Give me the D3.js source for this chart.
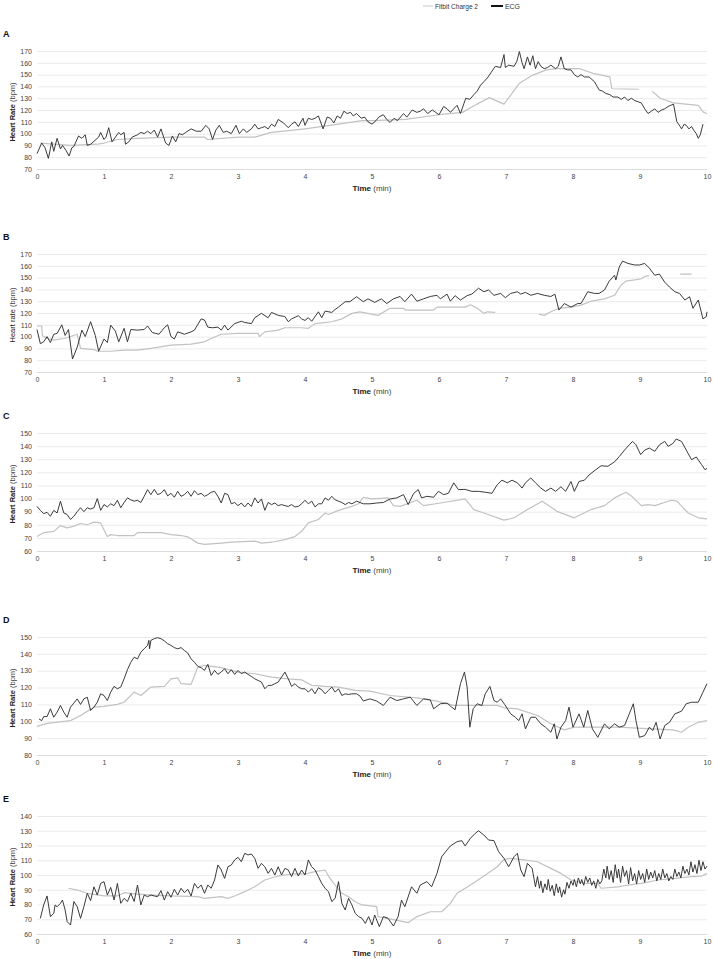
<!DOCTYPE html>
<html><head><meta charset="utf-8">
<script src="https://cdn.jsdelivr.net/npm/d3@7/dist/d3.min.js"></script>
<style>body{margin:0;background:#fff}svg{display:block}text{font-family:"Liberation Sans",Arial,sans-serif}</style>
</head><body><svg id="c" width="713" height="959"></svg>
<script>
// ---------- DATA ----------
const xTicks = [0,1,2,3,4,5,6,7,8,9,10];
const panelLabels = ["A","B","C","D","E"];
const yDomains = [[70,170],[70,170],[60,150],[80,150],[60,140]];
const yTitleMain = ["Heart Rate","Heart rate","Heart Rate","Heart Rate","Heart Rate"];
const legendLabels = ["Fitbit Charge 2","ECG"];

const ecgA = [[0,83],[0.07,92],[0.12,88],[0.17,79],[0.22,93],[0.25,85],[0.3,96],[0.35,87],[0.38,90],[0.43,86],[0.48,81],[0.52,88],[0.55,89],[0.62,98],[0.67,96],[0.72,99],[0.75,90],[0.8,91],[0.88,95],[0.92,97],[0.95,101],[1.0,95],[1.03,97],[1.07,105],[1.12,93],[1.17,97],[1.22,101],[1.25,99],[1.3,101],[1.32,91],[1.37,93],[1.42,97],[1.5,99],[1.55,101],[1.6,100],[1.65,102],[1.7,100],[1.75,103],[1.8,97],[1.85,104],[1.92,92],[1.97,90],[2.02,98],[2.07,93],[2.12,100],[2.17,99],[2.22,101],[2.3,104],[2.38,102],[2.45,102],[2.52,107],[2.57,104],[2.62,95],[2.67,103],[2.72,107],[2.78,101],[2.83,102],[2.9,100],[2.97,107],[3.02,100],[3.08,104],[3.13,101],[3.2,104],[3.25,108],[3.3,104],[3.35,105],[3.4,106],[3.45,104],[3.5,108],[3.55,106],[3.6,112],[3.68,109],[3.75,105],[3.8,108],[3.85,110],[3.9,106],[3.97,113],[4.0,107],[4.05,113],[4.1,112],[4.15,113],[4.2,115],[4.27,104],[4.33,114],[4.38,113],[4.43,109],[4.48,115],[4.53,113],[4.58,119],[4.63,117],[4.68,118],[4.72,115],[4.77,117],[4.84,113],[4.89,114],[4.94,110],[5.0,108],[5.06,111],[5.1,114],[5.17,116],[5.22,112],[5.27,109.5],[5.33,113],[5.38,111],[5.47,117],[5.52,114],[5.6,120],[5.67,118],[5.72,119],[5.77,121],[5.83,117],[5.9,120],[5.95,118],[6.0,116],[6.07,123],[6.12,121],[6.17,118],[6.27,124],[6.32,117],[6.4,130],[6.46,129],[6.52,133],[6.57,136],[6.62,141],[6.67,144],[6.72,147],[6.78,152],[6.84,157],[6.92,156],[6.97,167],[6.99,156],[7.04,158],[7.12,157],[7.16,161],[7.2,169.5],[7.24,160],[7.27,155],[7.32,165],[7.36,158],[7.4,166],[7.44,155],[7.48,161],[7.52,157],[7.57,155],[7.62,156],[7.67,158],[7.74,155],[7.78,157],[7.82,165],[7.87,155],[7.92,154],[7.97,154],[8.02,150],[8.07,148],[8.12,150],[8.17,148],[8.24,148],[8.28,146],[8.32,144],[8.36,140],[8.39,137],[8.44,136],[8.49,134],[8.55,133],[8.6,131],[8.67,131],[8.72,129],[8.77,131],[8.82,128],[8.87,130],[8.92,128],[8.97,127],[9.02,126],[9.07,121],[9.12,117],[9.17,119],[9.22,121],[9.27,118],[9.32,120],[9.37,121],[9.42,123],[9.46,124],[9.5,125],[9.55,110],[9.6,106],[9.62,104],[9.66,108],[9.69,107],[9.73,104],[9.77,106],[9.8,103],[9.84,100],[9.87,96],[9.9,99],[9.94,108]];
const fitA = [[0.05,92],[0.5,90],[0.9,91],[1.0,92],[1.2,95],[1.5,96],[2.0,97],[2.5,97],[2.55,95],[3.0,97],[3.25,97],[3.5,101],[4.0,104],[4.5,108],[4.85,111],[5.0,111],[5.5,112],[6.0,116],[6.35,118],[6.5,123],[6.75,130.5],[6.97,125],[7.2,142.6],[7.4,149.6],[7.6,154],[7.75,155],[8.1,155],[8.3,151],[8.55,148],[8.58,138],[8.98,137.6],[9.0,null],[9.18,136],[9.3,130],[9.5,126],[9.87,124],[9.95,118],[10.0,117]];

const ecgB = [[0,106],[0.05,94],[0.1,95.6],[0.15,100],[0.2,95],[0.25,102],[0.3,102.7],[0.37,110],[0.42,101],[0.47,106],[0.53,81],[0.6,91],[0.67,105.5],[0.72,100],[0.8,112.6],[0.87,101],[0.92,87.6],[1.0,98],[1.05,95],[1.1,109.7],[1.17,104.6],[1.22,95.6],[1.3,107],[1.35,95.6],[1.4,106],[1.5,105.5],[1.6,106],[1.65,109],[1.72,103.5],[1.82,102],[1.9,107.5],[1.95,110],[2.0,100],[2.05,98],[2.1,104],[2.2,102],[2.3,104],[2.35,105.5],[2.45,115],[2.5,114],[2.55,108],[2.62,107.5],[2.7,108],[2.75,105.5],[2.8,109.7],[2.85,105.5],[2.95,111],[3.05,113],[3.1,112],[3.2,111],[3.25,116],[3.35,119.7],[3.45,116],[3.5,120.5],[3.6,118],[3.7,117],[3.75,112.6],[3.8,115],[3.9,117.7],[3.95,115],[4.0,113.7],[4.05,116],[4.1,113],[4.2,121],[4.25,116],[4.3,121.6],[4.4,120.5],[4.45,123],[4.5,125],[4.6,129.6],[4.67,129.6],[4.77,133.8],[4.87,129.6],[4.94,132],[5.04,129],[5.14,132],[5.22,128],[5.32,132],[5.42,134],[5.49,129.6],[5.59,136],[5.67,130],[5.77,132],[5.87,134],[5.97,135],[6.02,132],[6.12,136],[6.17,130],[6.24,134.7],[6.32,131],[6.42,134.7],[6.49,136],[6.59,141],[6.67,138],[6.74,139.5],[6.82,135],[6.92,136.6],[6.99,133],[7.07,136.6],[7.17,138],[7.22,136],[7.29,137.5],[7.37,135],[7.47,136.6],[7.57,135],[7.67,134],[7.73,136],[7.79,122.5],[7.87,128],[7.97,125],[8.07,128],[8.12,128],[8.22,138],[8.32,136.6],[8.39,136.6],[8.47,139.5],[8.54,147],[8.62,152],[8.64,148],[8.69,159],[8.74,164],[8.82,162],[8.92,160.7],[8.99,160.7],[9.07,162],[9.14,158],[9.22,152],[9.29,153],[9.37,146],[9.44,142],[9.52,138],[9.59,136.6],[9.67,131],[9.74,133.8],[9.79,124],[9.87,131],[9.94,115],[9.99,117],[10.0,121]];
const fitB = [[0,109],[0.07,109],[0.08,101],[0.15,98.4],[0.25,97],[0.4,98.4],[0.45,99],[0.6,102],[0.65,90],[0.85,89],[0.9,87.6],[1.1,87.6],[1.3,88.5],[1.5,88.5],[1.7,90],[2.0,92.7],[2.3,93.6],[2.5,95.6],[2.6,98.4],[2.75,102],[3.0,102.7],[3.3,102.7],[3.32,100],[3.4,104],[3.6,105.5],[3.7,107.5],[3.95,107.5],[4.05,107],[4.15,111],[4.4,112.6],[4.55,115],[4.7,119.7],[4.82,121],[5.09,118],[5.27,124],[5.47,124],[5.5,122.5],[5.92,122.5],[5.97,125],[6.39,125],[6.47,127],[6.57,124],[6.67,119.7],[6.72,121],[6.84,120.5],[6.85,null],[7.49,119],[7.57,118],[7.67,121],[7.79,124],[7.97,125],[8.12,126.7],[8.27,130],[8.47,132],[8.62,135],[8.72,143.7],[8.79,147],[8.92,148],[9.02,149],[9.07,151],[9.14,151.7],[9.15,null],[9.6,153],[9.77,153]];

const ecgC = [[0,94],[0.05,91],[0.1,88.5],[0.15,89.5],[0.2,86.5],[0.25,91],[0.3,89],[0.35,98],[0.4,89],[0.45,87.8],[0.5,84],[0.55,86.5],[0.6,90],[0.65,93],[0.7,90],[0.75,93],[0.8,92],[0.85,93],[0.9,100],[0.95,91],[1.0,95.4],[1.05,93.6],[1.1,96],[1.15,94.6],[1.2,98.7],[1.25,93],[1.3,97],[1.35,100.5],[1.4,99],[1.45,98],[1.5,98.7],[1.55,97],[1.6,101.7],[1.65,106.8],[1.7,103],[1.75,107],[1.8,103],[1.85,104],[1.9,106.8],[1.95,102],[2.0,104],[2.05,101],[2.1,105.5],[2.15,101.7],[2.2,103],[2.25,105.5],[2.3,101.7],[2.35,106],[2.4,103],[2.45,104],[2.5,101.7],[2.55,103],[2.6,104.8],[2.65,105.5],[2.7,101.7],[2.75,96.6],[2.8,104],[2.85,103],[2.9,96],[2.95,97],[3.0,94.6],[3.05,96.6],[3.1,93.6],[3.15,96.6],[3.2,94],[3.25,100.5],[3.3,96.6],[3.35,99.7],[3.4,91],[3.45,97],[3.5,95.4],[3.55,96.6],[3.6,94.6],[3.65,95.4],[3.7,94.6],[3.75,94],[3.8,95.4],[3.85,93.6],[3.9,94],[3.95,96],[4.0,98.7],[4.05,96],[4.1,98],[4.15,93.6],[4.2,96],[4.25,96],[4.3,100.5],[4.35,98.7],[4.4,101.7],[4.45,99],[4.5,98],[4.55,97],[4.6,95.4],[4.65,97],[4.7,96],[4.77,98],[4.87,96],[4.97,96],[5.07,96.6],[5.17,97],[5.27,99.7],[5.37,100.5],[5.47,103],[5.54,95.4],[5.62,103.8],[5.69,106.8],[5.74,100.5],[5.82,101.7],[5.92,101],[5.99,105.5],[6.07,103],[6.14,104],[6.22,112],[6.29,106.8],[6.39,107],[6.49,105.5],[6.59,105.5],[6.69,104.8],[6.79,104],[6.87,110.6],[6.94,114],[7.02,112],[7.09,114],[7.17,112],[7.24,108],[7.29,112],[7.37,115.7],[7.44,112],[7.52,108],[7.59,105.5],[7.67,108],[7.74,105.5],[7.82,109],[7.89,105.5],[7.97,113],[8.02,105.5],[8.09,113],[8.17,114],[8.24,118],[8.34,122],[8.42,125],[8.52,124.6],[8.62,128],[8.69,132],[8.77,137],[8.84,141],[8.89,143.6],[8.94,141],[9.01,133.5],[9.07,137],[9.14,138.5],[9.22,136],[9.29,141],[9.37,143.6],[9.42,139.8],[9.49,142],[9.54,145.4],[9.62,143.6],[9.69,137],[9.77,129.6],[9.84,131.7],[9.92,125.8],[9.97,122],[10.0,123]];
const fitC = [[0,71],[0.1,74],[0.25,75],[0.35,79.4],[0.45,77.6],[0.55,79],[0.65,81],[0.75,80],[0.85,82],[0.95,81.4],[1.05,71],[1.1,72.5],[1.2,71.8],[1.45,71.8],[1.5,74],[1.85,74],[2.0,72.5],[2.15,71.8],[2.25,70.8],[2.4,66],[2.5,65],[2.75,66],[2.9,66.7],[3.25,67.5],[3.35,66],[3.5,66.7],[3.7,68.7],[3.85,71],[3.95,75],[4.05,81.4],[4.2,84],[4.3,89],[4.35,87.8],[4.5,91],[4.7,94],[4.8,96],[4.87,101],[4.99,99.7],[5.24,100.5],[5.32,94.6],[5.42,94],[5.67,98.7],[5.77,94.6],[6.07,97],[6.39,99.7],[6.52,91.6],[6.67,89],[6.97,83.5],[7.12,85.3],[7.32,91.6],[7.54,98],[7.77,90],[8.02,85.3],[8.27,91.6],[8.47,94.6],[8.62,100.5],[8.79,104.8],[8.87,102],[9.02,94.6],[9.12,95.4],[9.22,94.6],[9.47,98.7],[9.55,98],[9.72,89],[9.87,85.3],[10.0,84.5]];

const ecgD = [[0.03,101.4],[0.07,100.4],[0.1,102.8],[0.15,102.8],[0.2,107.4],[0.25,102.4],[0.3,105.4],[0.35,109.4],[0.4,105.4],[0.45,102.4],[0.5,108.4],[0.55,110.8],[0.6,113.3],[0.65,110],[0.7,113.3],[0.75,114.3],[0.8,106.4],[0.85,108.4],[0.9,111.3],[0.95,116.3],[1.0,115.3],[1.05,112.3],[1.1,117.3],[1.15,120.7],[1.2,119.3],[1.25,120.3],[1.3,125.2],[1.35,130.6],[1.4,135],[1.45,138],[1.5,137],[1.55,141],[1.6,143],[1.65,145],[1.67,148],[1.68,143],[1.7,148],[1.75,149],[1.8,149.6],[1.85,149],[1.9,147.7],[1.95,146],[2.0,145],[2.05,143.7],[2.1,143],[2.15,143.7],[2.2,142],[2.25,140.5],[2.3,137],[2.35,135],[2.4,132.6],[2.45,131.8],[2.5,130.2],[2.55,133.8],[2.6,127.2],[2.65,130.2],[2.7,127.8],[2.75,129.2],[2.8,131.2],[2.85,128.2],[2.9,130.6],[2.95,127.8],[3.0,130.2],[3.05,128.2],[3.1,129.2],[3.15,127.8],[3.2,126.6],[3.25,125.2],[3.3,124.2],[3.35,123.3],[3.4,119.3],[3.45,121.3],[3.5,121.3],[3.55,122.3],[3.6,123.3],[3.65,126.2],[3.7,129.2],[3.75,125.2],[3.8,120.7],[3.85,122.3],[3.9,120.3],[3.95,119.3],[4.0,119.3],[4.05,117.3],[4.1,119.3],[4.15,116.3],[4.2,119.9],[4.25,118.7],[4.3,116.3],[4.35,118.3],[4.4,120.3],[4.45,117.3],[4.5,119.3],[4.55,115.3],[4.6,116.3],[4.65,115.9],[4.7,116.3],[4.77,116.3],[4.82,115],[4.87,112],[4.97,113.3],[5.07,112],[5.17,109.4],[5.27,114.3],[5.37,112.3],[5.47,113.3],[5.57,114.3],[5.67,109.4],[5.77,113.3],[5.87,112.7],[5.92,107.4],[6.02,110.4],[6.12,110.8],[6.19,108.4],[6.24,106.8],[6.32,122.3],[6.38,129.2],[6.42,120.3],[6.46,96.5],[6.51,107.4],[6.57,110.4],[6.64,109.4],[6.69,116.3],[6.76,120.7],[6.82,112.3],[6.87,111.3],[6.92,113.3],[6.98,110],[7.07,104.4],[7.14,102.4],[7.19,100.4],[7.24,104.4],[7.29,95.5],[7.37,102.4],[7.44,102.4],[7.52,98.5],[7.59,96.5],[7.67,93.5],[7.72,98.5],[7.76,89.5],[7.82,96.5],[7.89,100.4],[7.94,108.4],[8.0,96.5],[8.09,104.4],[8.16,96.5],[8.22,106.4],[8.29,95.5],[8.37,90.5],[8.47,98.5],[8.54,95.5],[8.62,98.5],[8.69,96.5],[8.77,97.5],[8.84,104.4],[8.9,110.4],[8.94,100.4],[8.99,90.5],[9.07,91.5],[9.14,96.5],[9.19,94.5],[9.24,99.4],[9.3,89.5],[9.37,97.5],[9.44,99.4],[9.52,104.4],[9.62,106],[9.69,110.4],[9.77,111.3],[9.87,111.3],[9.94,117.3],[10.0,122.3]];
const fitD = [[0,97],[0.15,98.8],[0.5,100.4],[0.65,103.4],[0.85,108.4],[1.0,108.8],[1.2,110],[1.3,111.3],[1.45,117.3],[1.55,115.3],[1.7,120.3],[1.9,120.7],[2.0,125.2],[2.1,125.8],[2.15,122.3],[2.3,121.9],[2.4,132.2],[2.5,133.2],[2.75,131.8],[3.0,129.2],[3.25,128.2],[3.5,126.2],[3.75,125.2],[3.95,124.6],[4.1,121.3],[4.3,120.7],[4.5,120.3],[4.75,118.3],[4.97,117.9],[5.27,115.3],[5.67,113.9],[5.97,112],[6.22,109.4],[6.87,109.4],[6.97,108],[7.17,107.4],[7.47,103.4],[7.67,98.5],[7.87,94.9],[8.02,96.5],[8.17,96.5],[8.67,96.5],[9.17,95.5],[9.49,94.9],[9.62,93.5],[9.72,96.5],[9.87,99.4],[10.0,100.4]];

const ecgE = [[0.05,70.6],[0.1,79.7],[0.15,85.8],[0.2,71.8],[0.25,74],[0.27,79.7],[0.3,78.5],[0.35,80.8],[0.38,83],[0.42,76.3],[0.45,68.4],[0.5,66.1],[0.55,82],[0.6,78.5],[0.65,70.6],[0.7,78.5],[0.75,87.6],[0.8,82.6],[0.85,92],[0.9,86.4],[0.95,94.3],[1.0,95.5],[1.05,86.4],[1.1,91.6],[1.15,83],[1.2,94.3],[1.25,80.8],[1.3,84.2],[1.35,82],[1.4,87.6],[1.45,82],[1.5,93.2],[1.55,79.7],[1.6,86.4],[1.65,85.3],[1.7,86.4],[1.75,85.8],[1.8,85.3],[1.85,89.4],[1.9,83],[1.95,88.7],[2.0,84.9],[2.05,90.3],[2.1,86.4],[2.15,91],[2.2,88],[2.25,90.3],[2.3,85.8],[2.35,94.3],[2.4,91],[2.45,93.2],[2.5,87.6],[2.55,93.2],[2.6,91],[2.65,96.6],[2.7,106.8],[2.75,103.4],[2.8,97.7],[2.85,105.6],[2.9,106.8],[2.95,110.2],[3.0,112],[3.05,109],[3.1,114.7],[3.15,113.6],[3.2,114.2],[3.25,111.3],[3.3,104.5],[3.35,107.9],[3.4,105.6],[3.45,101.1],[3.5,104.5],[3.55,100],[3.6,105.6],[3.65,100],[3.7,104.5],[3.75,103.4],[3.8,98.9],[3.85,104.5],[3.9,99.3],[3.95,103.4],[4.0,100],[4.05,110.2],[4.1,105.6],[4.15,103.4],[4.2,98.9],[4.25,94.3],[4.3,91],[4.35,88.7],[4.4,82],[4.45,84.2],[4.5,95.5],[4.55,80.8],[4.6,76.3],[4.65,84.2],[4.7,79.7],[4.75,74],[4.8,71.8],[4.85,70.6],[4.9,67.2],[4.95,71.8],[5.0,66.1],[5.04,72.9],[5.11,65],[5.17,71.8],[5.24,70.6],[5.32,65.4],[5.39,71.8],[5.44,83],[5.49,78.5],[5.59,92],[5.67,87.6],[5.72,93.2],[5.82,95.5],[5.89,92],[5.97,101.1],[6.04,112.4],[6.12,117],[6.17,119.7],[6.27,122.6],[6.34,123.3],[6.39,119.7],[6.47,124.9],[6.54,128.2],[6.59,130],[6.67,127.1],[6.74,123.7],[6.82,123.3],[6.89,115.8],[6.97,111.3],[7.04,105.6],[7.12,112.4],[7.17,114.7],[7.22,103.4],[7.27,98.9],[7.32,107.9],[7.39,104.5],[7.44,92],[7.47,99],[7.5,91],[7.52,96],[7.55,88],[7.58,94],[7.61,90],[7.63,97],[7.66,89],[7.69,93],[7.72,86],[7.75,94],[7.78,88],[7.8,92],[7.83,85],[7.86,90],[7.88,87],[7.91,95],[7.94,91],[7.97,96],[8.0,93],[8.02,97],[8.05,92],[8.08,98],[8.11,94],[8.13,97],[8.16,93],[8.19,99],[8.22,95],[8.25,98],[8.28,93],[8.31,96],[8.34,91],[8.37,97],[8.4,94],[8.43,96],[8.46,104],[8.49,98],[8.51,106],[8.54,97],[8.57,103],[8.6,95],[8.63,107],[8.66,98],[8.68,104],[8.71,95],[8.74,106],[8.77,99],[8.8,103],[8.83,94],[8.86,105],[8.89,96],[8.92,101],[8.95,94],[8.98,103],[9.01,97],[9.04,101],[9.07,95],[9.1,104],[9.13,97],[9.16,102],[9.19,98],[9.22,103],[9.25,96],[9.28,101],[9.31,97],[9.34,104],[9.37,98],[9.4,101],[9.43,96],[9.46,99],[9.49,97],[9.52,104],[9.55,99],[9.58,102],[9.61,98],[9.64,106],[9.67,101],[9.7,104],[9.73,100],[9.76,109],[9.79,102],[9.82,107],[9.85,101],[9.88,110],[9.91,103],[9.94,109],[9.97,104],[10.0,106]];
const fitE = [[0.47,91],[0.6,89.8],[0.75,87.6],[1.0,85.8],[1.2,85.8],[1.3,88],[1.5,87.1],[1.75,86.4],[2.0,85.8],[2.4,85.3],[2.5,84.2],[2.75,85.3],[2.85,84.2],[2.95,85.8],[3.1,88.7],[3.25,92],[3.4,96.6],[3.6,99.3],[3.8,100.7],[4.0,100.7],[4.15,102.3],[4.3,103.4],[4.35,99.3],[4.45,93.2],[4.55,87.6],[4.65,85.3],[4.75,81.9],[4.85,79.7],[5.07,78.5],[5.09,71.8],[5.47,68.4],[5.54,67.7],[5.67,71.8],[5.87,75.1],[6.04,75.1],[6.17,80.8],[6.27,87.6],[6.47,93.2],[6.67,99.3],[6.87,105.6],[6.97,110.6],[7.07,111.3],[7.27,110.2],[7.47,109],[7.67,104.5],[7.82,101.1],[7.97,96.6],[8.17,94.3],[8.37,94.3],[8.42,91],[8.67,92],[8.82,93.2],[9.02,94.3],[9.27,96.6],[9.52,97.7],[9.77,98.9],[9.92,99.3],[10.0,101.1]];

const ecgSeries = [ecgA, ecgB, ecgC, ecgD, ecgE];
const fitSeries = [fitA, fitB, fitC, fitD, fitE];

// ---------- LAYOUT ----------
const svg = d3.select("#c");
const X0 = 37, X1 = 707, PH = 118;
const tops = [51, 254, 433, 637, 816];
const ECG_COLOR = "#303030", FIT_COLOR = "#c2c2c2", GRID = "#ebebeb";
const x = d3.scaleLinear().domain([0, 10]).range([X0, X1]);

// legend
const lg = svg.append("g");
lg.append("line").attr("x1", 423).attr("x2", 433).attr("y1", 6).attr("y2", 6).attr("stroke", "#dadada").attr("stroke-width", 1.5);
lg.append("text").attr("x", 435).attr("y", 9).attr("font-size", 8).attr("fill", "#333")
  .attr("textLength", 43).attr("lengthAdjust", "spacingAndGlyphs").text(legendLabels[0]);
lg.append("line").attr("x1", 491).attr("x2", 503).attr("y1", 6).attr("y2", 6).attr("stroke", "#111").attr("stroke-width", 2);
lg.append("text").attr("x", 505).attr("y", 9).attr("font-size", 8).attr("fill", "#333")
  .attr("textLength", 15).attr("lengthAdjust", "spacingAndGlyphs").text(legendLabels[1]);

panelLabels.forEach((lab, i) => {
  const top = tops[i];
  const y = d3.scaleLinear().domain(yDomains[i]).range([top + PH, top]);
  const g = svg.append("g");
  const yt = d3.range(yDomains[i][0], yDomains[i][1] + 1, 10);

  // gridlines
  g.selectAll(".grid").data(yt).join("line")
    .attr("x1", X0).attr("x2", X1)
    .attr("y1", d => y(d) + 0.5).attr("y2", d => y(d) + 0.5)
    .attr("stroke", (d, k) => k === 0 ? "#dcdcdc" : GRID).attr("stroke-width", 1);

  // y axis labels
  const ya = g.append("g").attr("transform", `translate(${X0 - 5},0)`)
    .call(d3.axisLeft(y).tickValues(yt).tickSize(0).tickPadding(0));
  ya.select(".domain").remove();
  ya.selectAll("text").attr("font-size", 7).attr("fill", "#444").attr("font-family", '"Liberation Sans",Arial,sans-serif');

  // x axis labels
  const xa = g.append("g").attr("transform", `translate(0,${top + PH + 5})`)
    .call(d3.axisBottom(x).tickValues(xTicks).tickSize(0).tickPadding(0).tickFormat(d3.format("d")));
  xa.select(".domain").remove();
  xa.selectAll("text").attr("font-size", 7).attr("fill", "#444").attr("dy", "0.71em").attr("font-family", '"Liberation Sans",Arial,sans-serif');

  // x title
  const xt = g.append("text").attr("x", 372).attr("y", top + PH + 22).attr("text-anchor", "middle").attr("font-size", 8).attr("fill", "#222");
  xt.append("tspan").attr("font-weight", "bold").text("Time");
  xt.append("tspan").attr("fill", "#444").text(" (min)");

  // y title
  const ytt = g.append("text").attr("transform", `translate(15,${top + PH / 2 + 2}) rotate(-90)`)
    .attr("text-anchor", "middle").attr("font-size", 7.5).attr("fill", "#222");
  ytt.append("tspan").attr("font-weight", i === 1 ? "normal" : "bold").text(yTitleMain[i]);
  ytt.append("tspan").attr("fill", "#444").text(" (bpm)");

  // panel label
  g.append("text").attr("x", 3).attr("y", top - 14).attr("font-size", 9).attr("font-weight", "bold").attr("fill", "#111").text(lab);

  const line = d3.line().defined(d => d[1] != null).x(d => x(d[0])).y(d => y(d[1]));
  g.append("path").datum(fitSeries[i]).attr("d", line).attr("fill", "none")
    .attr("stroke", FIT_COLOR).attr("stroke-width", 1.2).attr("stroke-linejoin", "round");
  g.append("path").datum(ecgSeries[i]).attr("d", line).attr("fill", "none")
    .attr("stroke", ECG_COLOR).attr("stroke-width", 0.95).attr("stroke-linejoin", "round");
});
</script>
</body></html>
